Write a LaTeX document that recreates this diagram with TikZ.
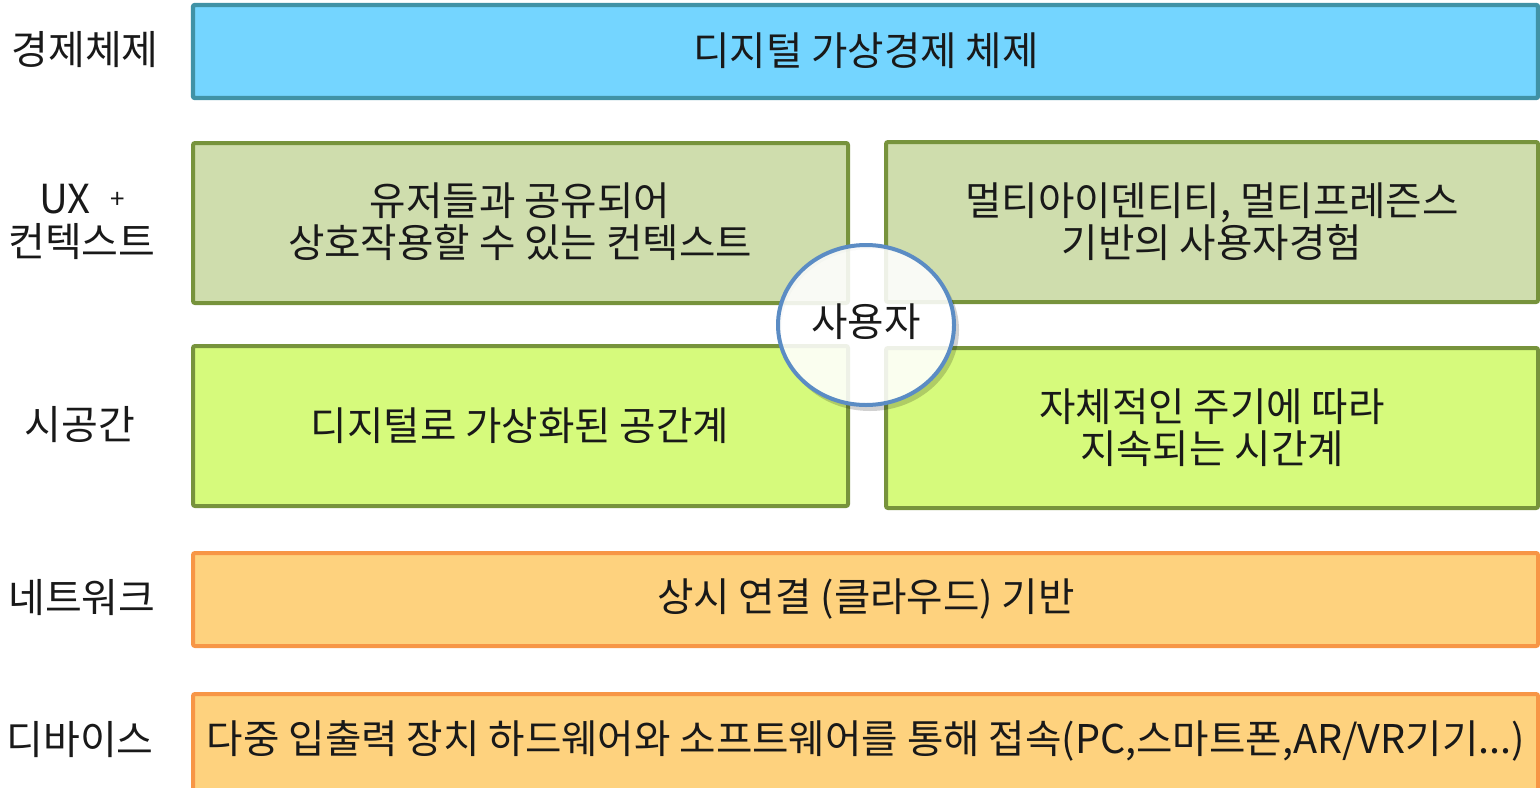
\documentclass[tikz,border=0pt]{standalone}
\usepackage{fontspec}
\setmainfont{Noto Sans CJK KR}
\definecolor{bluefill}{HTML}{74D5FF}
\definecolor{blueline}{HTML}{4092A6}
\definecolor{greenA}{HTML}{CFDDAD}
\definecolor{greenB}{HTML}{D6FA7C}
\definecolor{greenline}{HTML}{77933C}
\definecolor{orfill}{HTML}{FED27E}
\definecolor{orline}{HTML}{F79646}
\definecolor{circline}{HTML}{5B8CC4}
\tikzset{
  layerbox/.style={line width=2.2pt, rounded corners=1pt},
  bluebox/.style={layerbox, draw=blueline, fill=bluefill},
  greenboxA/.style={layerbox, line width=2pt, draw=greenline, fill=greenA},
  greenboxB/.style={layerbox, line width=2pt, draw=greenline, fill=greenB},
  orbox/.style={layerbox, line width=2pt, draw=orline, fill=orfill},
  txt/.style={font=\fontsize{19.8}{21}\selectfont, align=center, text=black!90},
  side/.style={font=\fontsize{20}{21.5}\selectfont, align=center, text=black!90},
}
\begin{document}
\begin{tikzpicture}[x=0.5pt,y=-0.5pt]
\useasboundingbox (0,0) rectangle (1540,787);
\clip (0,0) rectangle (1540,787);
% boxes
\draw[bluebox] (193,5) rectangle (1538,98);
\draw[greenboxA] (193,143) rectangle (848,303);
\draw[greenboxA] (886,142) rectangle (1538,302);
\draw[greenboxB] (193,346) rectangle (848,506);
\draw[greenboxB] (886,348) rectangle (1538,508);
\draw[orbox] (193,553) rectangle (1538,646);
\draw[orbox] (193,694) rectangle (1538,800);
% box texts
\node[txt] (t1) at (866,51) {디지털 가상경제 체제};
\node[txt] (t2) at (520,222) {유저들과 공유되어\\상호작용할 수 있는 컨텍스트};
\node[txt] (t3) at (1212,222) {멀티아이덴티티, 멀티프레즌스\\기반의 사용자경험};
\node[txt] (t4) at (520,426) {디지털로 가상화된 공간계};
\node[txt] (t5) at (1212,428) {자체적인 주기에 따라\\지속되는 시간계};
\node[txt] (t6) at (866,599) {상시 연결 (클라우드) 기반};
\node[txt] (t7) at (866,741) {다중 입출력 장치 하드웨어와 소프트웨어를 통해 접속(PC,스마트폰,AR/VR기기...)};
% user circle shadow (ring only)
\fill[black, opacity=0.18, even odd rule]
      (870,330) ellipse [x radius=89, y radius=81]
      (866,325) ellipse [x radius=88, y radius=80];
\draw[draw=circline, line width=2pt, fill=white, fill opacity=0.88]
      (866,325) ellipse [x radius=88, y radius=80];
\node[txt] (user) at (866,322) {사용자};
% side labels
\node[side] (s1) at (85,50) {경제체제};
\node[side] (s2) at (82,222) {UX\hspace{0.5em}\raisebox{0.12em}{\fontsize{13}{13}\selectfont +}\\컨텍스트};
\node[side] (s3) at (80,425) {시공간};
\node[side] (s4) at (82,598) {네트워크};
\node[side] (s5) at (80,740) {디바이스};
\end{tikzpicture}
\end{document}
